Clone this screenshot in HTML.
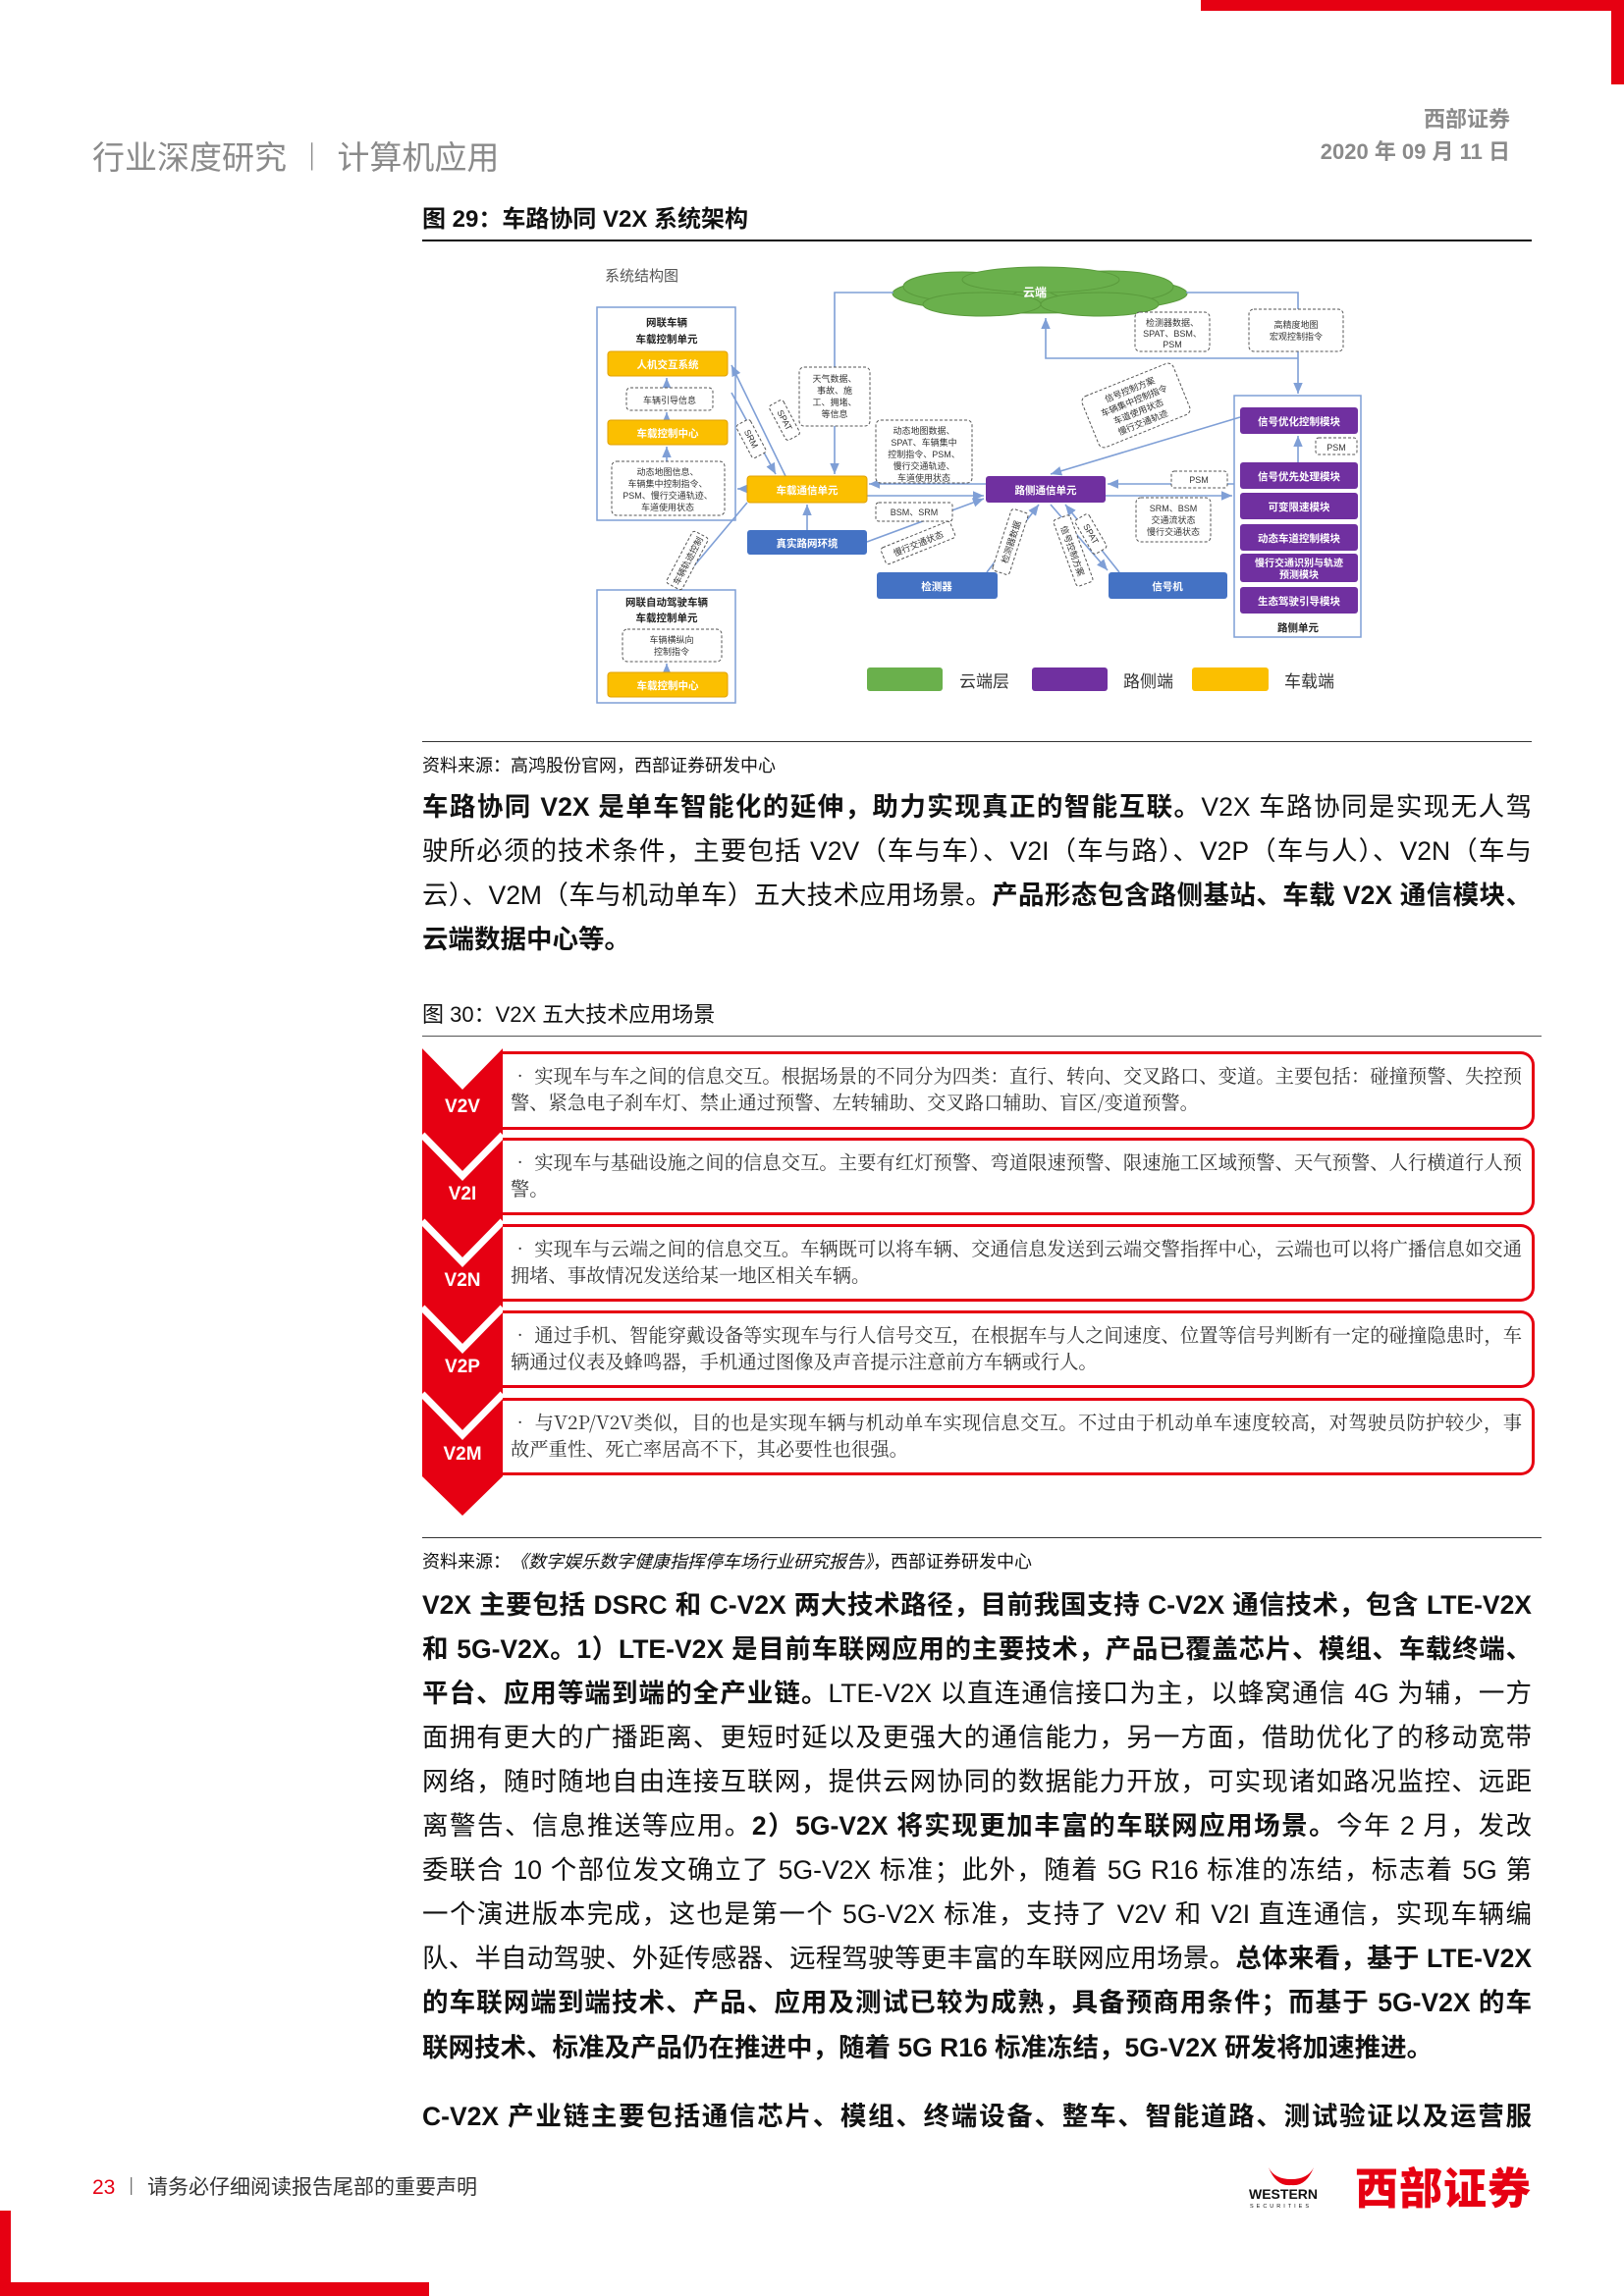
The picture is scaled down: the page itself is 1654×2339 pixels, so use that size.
<!DOCTYPE html>
<html><head><meta charset="utf-8">
<style>
*{margin:0;padding:0;box-sizing:border-box}
body{width:1654px;height:2339px;position:relative;background:#fff;font-family:"Liberation Sans","Noto Sans CJK SC",sans-serif;color:#111;overflow:hidden}
.a{position:absolute}
.ln{position:absolute;left:430px;width:1130px;height:45px;line-height:45px;font-size:26.5px;text-align:justify;text-align-last:justify;white-space:nowrap}
.ln.l{text-align-last:left}
b{font-weight:bold}
.row{position:absolute;left:512px;width:1051px;border:3px solid #e60012;border-left:none;border-radius:0 14px 14px 0;background:#fff}
.row div{position:absolute;left:8px;top:8px;width:1030px;font-family:"Noto Serif CJK SC","Liberation Serif",serif;font-size:19.3px;line-height:27px;color:#333;text-align:justify}
.vl{position:absolute;left:430px;width:82px;text-align:center;color:#fff;font-weight:bold;font-size:19px}
</style></head><body>
<div class="a" style="left:1223px;top:0;width:431px;height:11px;background:#e60012"></div>
<div class="a" style="left:1641px;top:0;width:13px;height:86px;background:#e60012"></div>
<div class="a" style="left:94px;top:134px;font-size:33px;color:#8a8a8a">行业深度研究 ︱ 计算机应用</div>
<div class="a" style="right:116px;top:104px;font-size:22px;color:#8a8a8a;font-weight:bold">西部证券</div>
<div class="a" style="right:116px;top:137px;font-size:22px;color:#8a8a8a;font-weight:bold">2020 年 09 月 11 日</div>
<div class="a" style="left:430px;top:203px;font-size:24px;font-weight:bold">图 29：车路协同 V2X 系统架构</div>
<div class="a" style="left:430px;top:244px;width:1130px;height:2px;background:#111"></div>

<svg class="a" style="left:0;top:0" width="1654" height="760" font-family="Liberation Sans,Noto Sans CJK SC,sans-serif">
<defs><marker id="ar" markerWidth="8" markerHeight="8" refX="7" refY="4" orient="auto"><path d="M0,1 L7,4 L0,7z" fill="#7f9fd6"/></marker></defs>
<text x="616" y="286" font-size="15" fill="#555">系统结构图</text>
<g fill="#6ab04c" stroke="#5a9a3c">
<ellipse cx="1059" cy="299" rx="150" ry="20"/>
<ellipse cx="980" cy="292" rx="60" ry="15"/><ellipse cx="1130" cy="292" rx="65" ry="16"/>
<ellipse cx="1060" cy="285" rx="80" ry="13"/><ellipse cx="1000" cy="310" rx="60" ry="12"/><ellipse cx="1120" cy="310" rx="60" ry="12"/>
</g>
<text x="1054" y="302" font-size="12" fill="#fff" font-weight="bold" text-anchor="middle">云端</text>
<g stroke="#7f9fd6" stroke-width="1.6" fill="none">
<path d="M910,298 H850 V483" marker-end="url(#ar)"/>
<path d="M1208,298 H1322 V401" marker-end="url(#ar)"/>
<path d="M1322,365 H1065 V324" marker-end="url(#ar)"/>
<path d="M822,540 V514" marker-end="url(#ar)"/>
<path d="M1004,493 H885" marker-end="url(#ar)"/>
<path d="M883,505 H1002" marker-end="url(#ar)"/>
<path d="M1126,505 H1255" marker-end="url(#ar)"/>
<path d="M1257,493 H1128" marker-end="url(#ar)"/>
<path d="M1263,425 L1070,483" marker-end="url(#ar)"/>
<path d="M800,485 L745,372" marker-end="url(#ar)"/>
<path d="M745,400 L790,483" marker-end="url(#ar)"/>
<path d="M761,498 H751" marker-end="url(#ar)"/>
<path d="M761,512 L688,599" marker-end="url(#ar)"/>
<path d="M883,552 L1002,508" marker-end="url(#ar)"/>
<path d="M1005,583 L1058,514" marker-end="url(#ar)"/>
<path d="M1140,583 L1085,514" marker-end="url(#ar)"/>
<path d="M1070,514 L1128,581" marker-end="url(#ar)"/>
<path d="M679,395 V385" marker-end="url(#ar)"/>
<path d="M679,428 V420" marker-end="url(#ar)"/>
<path d="M679,470 V455" marker-end="url(#ar)"/>
<path d="M679,685 V676" marker-end="url(#ar)"/>
<path d="M1322,471 V444" marker-end="url(#ar)"/>
</g>
<g fill="none" stroke="#7f9fd6" stroke-width="1.5">
<rect x="608" y="313" width="141" height="217"/><rect x="608" y="601" width="141" height="115"/><rect x="1257" y="403" width="129" height="246"/>
</g>
<g font-size="10.5" font-weight="bold" text-anchor="middle" fill="#222">
<text x="679" y="332">网联车辆</text><text x="679" y="349">车载控制单元</text>
<text x="679" y="617">网联自动驾驶车辆</text><text x="679" y="633">车载控制单元</text>
<text x="1322" y="643">路侧单元</text>
</g>
<g fill="#fbbf00" stroke="#e0a000"><rect x="619" y="358" width="122" height="25" rx="3"/><rect x="619" y="428" width="122" height="25" rx="3"/><rect x="619" y="685" width="122" height="25" rx="3"/><rect x="761" y="485" width="122" height="27" rx="3"/></g>
<g fill="#4472c4"><rect x="761" y="540" width="122" height="25" rx="3"/><rect x="893" y="583" width="123" height="27" rx="3"/><rect x="1129" y="583" width="121" height="27" rx="3"/></g>
<g fill="#7030a0"><rect x="1004" y="485" width="122" height="27" rx="3"/>
<rect x="1263" y="415" width="120" height="27" rx="3"/><rect x="1263" y="471" width="120" height="27" rx="3"/><rect x="1263" y="502" width="120" height="27" rx="3"/><rect x="1263" y="534" width="120" height="27" rx="3"/><rect x="1263" y="564" width="120" height="29" rx="3"/><rect x="1263" y="598" width="120" height="27" rx="3"/></g>
<g font-size="10.5" font-weight="bold" fill="#fff" text-anchor="middle">
<text x="680" y="375">人机交互系统</text><text x="680" y="445">车载控制中心</text><text x="680" y="702">车载控制中心</text><text x="822" y="503">车载通信单元</text>
<text x="822" y="557">真实路网环境</text><text x="954" y="601">检测器</text><text x="1189" y="601">信号机</text><text x="1065" y="503">路侧通信单元</text>
<text x="1323" y="433">信号优化控制模块</text><text x="1323" y="489">信号优先处理模块</text><text x="1323" y="520">可变限速模块</text><text x="1323" y="552">动态车道控制模块</text><text x="1323" y="577" font-size="10">慢行交通识别与轨迹</text><text x="1323" y="589" font-size="10">预测模块</text><text x="1323" y="616">生态驾驶引导模块</text>
</g>
<g fill="#fff" stroke="#555" stroke-dasharray="3,2" stroke-width="1">
<rect x="638" y="395" width="88" height="23" rx="4"/><rect x="623" y="470" width="115" height="55" rx="5"/><rect x="634" y="641" width="101" height="33" rx="5"/>
<rect x="814" y="374" width="72" height="60" rx="5"/><rect x="892" y="428" width="98" height="64" rx="5"/>
<rect x="1156" y="318" width="76" height="40" rx="5"/><rect x="1272" y="315" width="96" height="43" rx="5"/>
<rect x="1193" y="480" width="57" height="17" rx="3"/><rect x="1340" y="446" width="42" height="17" rx="3"/>
<rect x="892" y="512" width="78" height="19" rx="3"/><rect x="1157" y="507" width="76" height="45" rx="5"/>
</g>
<g font-size="9" fill="#333" text-anchor="middle">
<text x="682" y="411">车辆引导信息</text>
<text x="680" y="484">动态地图信息、</text><text x="680" y="496">车辆集中控制指令、</text><text x="680" y="508">PSM、慢行交通轨迹、</text><text x="680" y="520">车道使用状态</text>
<text x="684" y="655">车辆横纵向</text><text x="684" y="667">控制指令</text>
<text x="850" y="389">天气数据、</text><text x="850" y="401">事故、施</text><text x="850" y="413">工、拥堵、</text><text x="850" y="425">等信息</text>
<text x="941" y="442">动态地图数据、</text><text x="941" y="454">SPAT、车辆集中</text><text x="941" y="466">控制指令、PSM、</text><text x="941" y="478">慢行交通轨迹、</text><text x="941" y="490">车道使用状态</text>
<text x="1194" y="332">检测器数据、</text><text x="1194" y="343">SPAT、BSM、</text><text x="1194" y="354">PSM</text>
<text x="1320" y="334">高精度地图</text><text x="1320" y="346">宏观控制指令</text>
<text x="1221" y="492">PSM</text><text x="1361" y="459">PSM</text><text x="931" y="525">BSM、SRM</text>
<text x="1195" y="521">SRM、BSM</text><text x="1195" y="533">交通流状态</text><text x="1195" y="545">慢行交通状态</text>
</g>
<g fill="#fff" stroke="#555" stroke-dasharray="3,2" stroke-width="1" font-size="9">
<g transform="translate(1157,413) rotate(-22)"><rect x="-50" y="-28" width="100" height="56" rx="6"/><g stroke="none" fill="#333" text-anchor="middle"><text y="-14">信号控制方案</text><text y="-2">车辆集中控制指令</text><text y="10">车道使用状态</text><text y="22">慢行交通轨迹</text></g></g>
<g transform="translate(935,553) rotate(-22)"><rect x="-38" y="-9" width="76" height="18" rx="3"/><text y="4" text-anchor="middle" stroke="none" fill="#333">慢行交通状态</text></g>
<g transform="translate(1029,552) rotate(-72)"><rect x="-33" y="-9" width="66" height="18" rx="3"/><text y="4" text-anchor="middle" stroke="none" fill="#333">检测器数据</text></g>
<g transform="translate(1093,561) rotate(70)"><rect x="-36" y="-9" width="72" height="18" rx="3"/><text y="4" text-anchor="middle" stroke="none" fill="#333">信号控制方案</text></g>
<g transform="translate(1111,544) rotate(60)"><rect x="-20" y="-8" width="40" height="16" rx="3"/><text y="3" text-anchor="middle" stroke="none" fill="#333">SPAT</text></g>
<g transform="translate(799,428) rotate(62)"><rect x="-20" y="-8" width="40" height="16" rx="3"/><text y="3" text-anchor="middle" stroke="none" fill="#333">SPAT</text></g>
<g transform="translate(765,447) rotate(62)"><rect x="-19" y="-8" width="38" height="16" rx="3"/><text y="3" text-anchor="middle" stroke="none" fill="#333">SRM</text></g>
<g transform="translate(700,571) rotate(-62)"><rect x="-30" y="-9" width="60" height="18" rx="3"/><text y="4" text-anchor="middle" stroke="none" fill="#333">车辆轨迹控制</text></g>
</g>
<rect x="883" y="680" width="77" height="24" rx="3" fill="#6ab04c"/><rect x="1051" y="680" width="77" height="24" rx="3" fill="#7030a0"/><rect x="1214" y="680" width="78" height="24" rx="3" fill="#fbbf00"/>
<g font-size="17" fill="#333"><text x="977" y="700">云端层</text><text x="1144" y="700">路侧端</text><text x="1308" y="700">车载端</text></g>
</svg>

<div class="a" style="left:430px;top:755px;width:1130px;height:1px;background:#333"></div>
<div class="a" style="left:430px;top:766px;font-size:18px">资料来源：高鸿股份官网，西部证券研发中心</div>

<div class="ln" style="top:800px"><b>车路协同 V2X 是单车智能化的延伸，助力实现真正的智能互联。</b>V2X 车路协同是实现无人驾</div>
<div class="ln" style="top:845px">驶所必须的技术条件，主要包括 V2V（车与车）、V2I（车与路）、V2P（车与人）、V2N（车与</div>
<div class="ln" style="top:890px">云）、V2M（车与机动单车）五大技术应用场景。<b>产品形态包含路侧基站、车载 V2X 通信模块、</b></div>
<div class="ln l" style="top:935px"><b>云端数据中心等。</b></div>

<div class="a" style="left:430px;top:1016px;font-size:22px">图 30：V2X 五大技术应用场景</div>
<div class="a" style="left:430px;top:1055px;width:1140px;height:1px;background:#555"></div>

<svg class="a" style="left:0;top:0" width="1654" height="1560">
<polygon points="430,1068 512,1068 512,1504 471,1544 430,1504" fill="#e60012"/>
<polygon points="428,1066 471,1110 514,1066" fill="#fff"/>
<g stroke="#fff" stroke-width="7" fill="none">
<polyline points="430,1156 471,1198 512,1156"/><polyline points="430,1244 471,1286 512,1244"/><polyline points="430,1332 471,1374 512,1332"/><polyline points="430,1420 471,1462 512,1420"/>
</g>
</svg>
<div class="row" style="top:1071px;height:80px"><div>• 实现车与车之间的信息交互。根据场景的不同分为四类：直行、转向、交叉路口、变道。主要包括：碰撞预警、失控预警、紧急电子刹车灯、禁止通过预警、左转辅助、交叉路口辅助、盲区/变道预警。</div></div>
<div class="row" style="top:1159px;height:79px"><div>• 实现车与基础设施之间的信息交互。主要有红灯预警、弯道限速预警、限速施工区域预警、天气预警、人行横道行人预警。</div></div>
<div class="row" style="top:1247px;height:79px"><div>• 实现车与云端之间的信息交互。车辆既可以将车辆、交通信息发送到云端交警指挥中心，云端也可以将广播信息如交通拥堵、事故情况发送给某一地区相关车辆。</div></div>
<div class="row" style="top:1335px;height:79px"><div>• 通过手机、智能穿戴设备等实现车与行人信号交互，在根据车与人之间速度、位置等信号判断有一定的碰撞隐患时，车辆通过仪表及蜂鸣器，手机通过图像及声音提示注意前方车辆或行人。</div></div>
<div class="row" style="top:1424px;height:79px"><div>• 与V2P/V2V类似，目的也是实现车辆与机动单车实现信息交互。不过由于机动单车速度较高，对驾驶员防护较少，事故严重性、死亡率居高不下，其必要性也很强。</div></div>
<div class="vl" style="top:1117px">V2V</div><div class="vl" style="top:1206px">V2I</div><div class="vl" style="top:1294px">V2N</div><div class="vl" style="top:1382px">V2P</div><div class="vl" style="top:1471px">V2M</div>

<div class="a" style="left:430px;top:1566px;width:1140px;height:1px;background:#333"></div>
<div class="a" style="left:430px;top:1577px;font-size:18px">资料来源：<i>《数字娱乐数字健康指挥停车场行业研究报告》</i>，西部证券研发中心</div>

<div class="ln" style="top:1613px"><b>V2X 主要包括 DSRC 和 C-V2X 两大技术路径，目前我国支持 C-V2X 通信技术，包含 LTE-V2X</b></div>
<div class="ln" style="top:1658px"><b>和 5G-V2X。1）LTE-V2X 是目前车联网应用的主要技术，产品已覆盖芯片、模组、车载终端、</b></div>
<div class="ln" style="top:1703px"><b>平台、应用等端到端的全产业链。</b>LTE-V2X 以直连通信接口为主，以蜂窝通信 4G 为辅，一方</div>
<div class="ln" style="top:1748px">面拥有更大的广播距离、更短时延以及更强大的通信能力，另一方面，借助优化了的移动宽带</div>
<div class="ln" style="top:1793px">网络，随时随地自由连接互联网，提供云网协同的数据能力开放，可实现诸如路况监控、远距</div>
<div class="ln" style="top:1838px">离警告、信息推送等应用。<b>2）5G-V2X 将实现更加丰富的车联网应用场景。</b>今年 2 月，发改</div>
<div class="ln" style="top:1883px">委联合 10 个部位发文确立了 5G-V2X 标准；此外，随着 5G  R16 标准的冻结，标志着 5G 第</div>
<div class="ln" style="top:1928px">一个演进版本完成，这也是第一个 5G-V2X 标准，支持了 V2V 和 V2I 直连通信，实现车辆编</div>
<div class="ln" style="top:1973px">队、半自动驾驶、外延传感器、远程驾驶等更丰富的车联网应用场景。<b>总体来看，基于 LTE-V2X</b></div>
<div class="ln" style="top:2018px"><b>的车联网端到端技术、产品、应用及测试已较为成熟，具备预商用条件；而基于 5G-V2X 的车</b></div>
<div class="ln l" style="top:2064px"><b>联网技术、标准及产品仍在推进中，随着 5G R16 标准冻结，5G-V2X 研发将加速推进。</b></div>
<div class="ln" style="top:2134px"><b>C-V2X 产业链主要包括通信芯片、模组、终端设备、整车、智能道路、测试验证以及运营服</b></div>

<div class="a" style="left:94px;top:2212px;font-size:21px"><span style="color:#e60012">23</span> <span style="color:#333">︱ 请务必仔细阅读报告尾部的重要声明</span></div>
<svg class="a" style="left:1270px;top:2200px" width="110" height="50">
<path d="M22,8 Q30,28 45,26 Q60,28 68,8 Q62,20 45,20 Q28,20 22,8z" fill="#e60012"/>
<text x="2" y="40" font-size="14" font-weight="bold" fill="#111" font-family="Liberation Sans,sans-serif">WESTERN</text>
<text x="3" y="49" font-size="5.5" fill="#111" letter-spacing="3" font-family="Liberation Sans,sans-serif">SECURITIES</text>
</svg>
<div class="a" style="left:1380px;top:2194px;font-size:44px;font-weight:900;color:#e60012;letter-spacing:1px">西部证券</div>
<div class="a" style="left:0;top:2252px;width:11px;height:87px;background:#e60012"></div>
<div class="a" style="left:0;top:2325px;width:437px;height:14px;background:#e60012"></div>
</body></html>
